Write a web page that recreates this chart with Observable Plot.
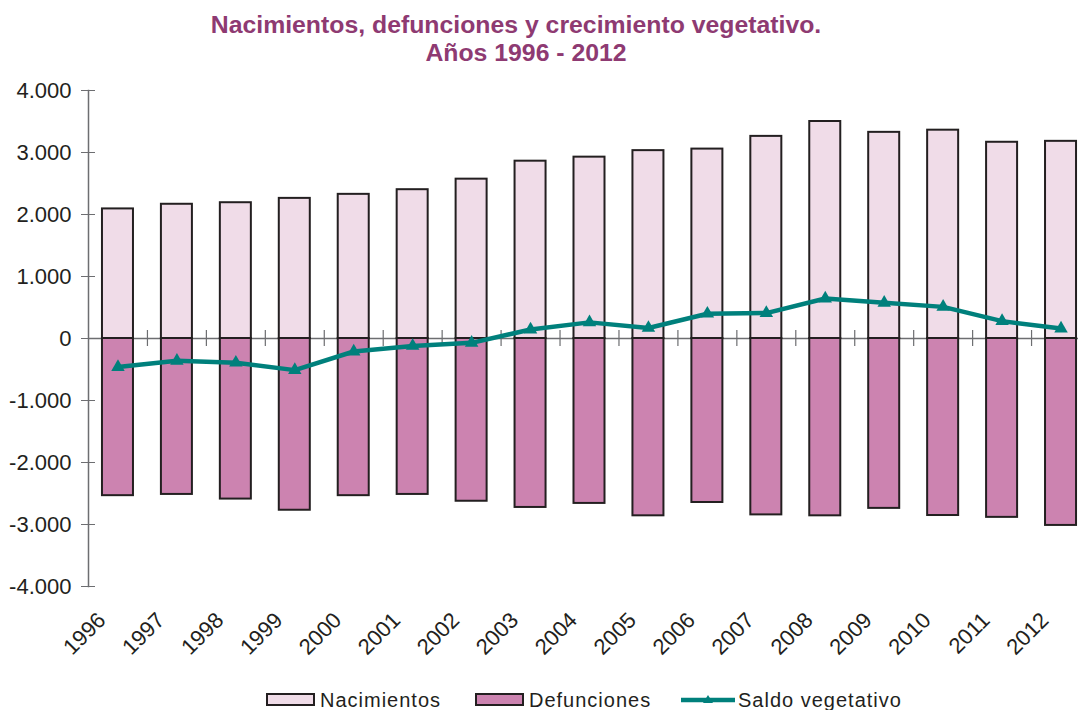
<!DOCTYPE html>
<html><head><meta charset="utf-8">
<script src="https://cdn.jsdelivr.net/npm/d3@7"></script>
<script src="https://cdn.jsdelivr.net/npm/@observablehq/plot@0.6"></script>
<style>
body{margin:0;background:#fff;font-family:"Liberation Sans",Arial,sans-serif;}
#wrap{position:relative;width:1078px;height:710px;overflow:hidden;}
#chart{position:absolute;left:0;top:0;}
.title{position:absolute;width:800px;text-align:center;color:#8e3a72;font-weight:bold;font-size:24.8px;white-space:nowrap;line-height:24px;}
.leg{position:absolute;font-size:20px;line-height:20px;letter-spacing:1px;color:#231f20;white-space:nowrap;}
.box{position:absolute;width:45px;height:9px;border:2px solid #231f20;}
</style></head><body>
<div id="wrap">
<div id="chart"></div>
<div class="title" style="left:116px;top:13px;">Nacimientos, defunciones y crecimiento vegetativo.</div>
<div class="title" style="left:126px;top:41px;">Años 1996 - 2012</div>
<div class="box" style="left:266px;top:693px;background:#f0dce8;"></div>
<div class="leg" style="left:320px;top:690px;">Nacimientos</div>
<div class="box" style="left:475px;top:693px;background:#cc83b0;"></div>
<div class="leg" style="left:529px;top:690px;">Defunciones</div>
<svg style="position:absolute;left:681px;top:693px;" width="54" height="14">
  <line x1="0" x2="54" y1="7" y2="7" stroke="#00807c" stroke-width="4.5"/>
  <path d="M27,2 L32,10 L22,10 Z" fill="#00807c"/>
</svg>
<div class="leg" style="left:738px;top:690px;">Saldo vegetativo</div>
</div>
<script>
const years = ["1996","1997","1998","1999","2000","2001","2002","2003","2004","2005","2006","2007","2008","2009","2010","2011","2012"];
const nacimientos = [2090, 2165, 2190, 2260, 2325, 2400, 2570, 2860, 2925, 3030, 3055, 3260, 3500, 3325, 3360, 3165, 3180];
const defunciones = [2535, 2515, 2590, 2770, 2535, 2515, 2625, 2725, 2660, 2860, 2645, 2845, 2860, 2740, 2855, 2885, 3015];
const saldo = [-460, -360, -390, -510, -210, -120, -70, 145, 260, 170, 400, 410, 645, 575, 510, 280, 160];
const yTicks = [-4000, -3000, -2000, -1000, 0, 1000, 2000, 3000, 4000];

const rows = years.map((y, i) => ({year: y, nac: nacimientos[i], def: -defunciones[i], saldo: saldo[i]}));
const fmt = d3.formatLocale({decimal: ",", thousands: ".", grouping: [3], currency: ["", "€"], minus: "-"}).format(",");
const xRange = [88, 1090];
const step = (xRange[1] - xRange[0]) / years.length;
const teal = "#00807c";
const gray = "#6d6e71";
const ink = "#231f20";

const chart = Plot.plot({
  width: 1078, height: 710,
  marginLeft: 88, marginRight: 0, marginTop: 90, marginBottom: 124,
  style: {fontFamily: "'Liberation Sans', Arial, sans-serif", fontSize: "22px", color: ink, background: "transparent", overflow: "visible"},
  x: {domain: years, range: xRange, paddingInner: 0.474, paddingOuter: 0.237, round: false, axis: null},
  y: {domain: [-4000, 4000], axis: null},
  marks: [
    Plot.ruleY([0], {stroke: gray, strokeWidth: 1.5}),
    Plot.ruleX(years.slice(0, -1), {x: d => d, y1: 0, y2: 0, insetTop: -8, insetBottom: -8, dx: step / 2, stroke: gray, strokeWidth: 1.2}),
    Plot.barY(rows, {x: "year", y: "nac", fill: "#f0dce8", stroke: ink, strokeWidth: 2}),
    Plot.barY(rows, {x: "year", y: "def", fill: "#cc83b0", stroke: ink, strokeWidth: 2}),
    Plot.frame({anchor: "left", stroke: gray, strokeWidth: 1.5}),
    Plot.axisY(yTicks, {tickFormat: fmt, tickSize: 14, tickPadding: 10, dx: 7, stroke: gray, fill: ink, fontSize: 22}),
    Plot.line(rows, {x: "year", y: "saldo", stroke: teal, strokeWidth: 4.5}),
    Plot.dot(rows, {x: "year", y: "saldo", symbol: "triangle", r: 5, fill: teal}),
    Plot.text(years, {x: d => d, frameAnchor: "bottom", text: d => d, rotate: -45, textAnchor: "end", lineAnchor: "bottom", dx: -11, dy: 35, fontSize: 22, fill: ink})
  ]
});
document.getElementById("chart").appendChild(chart);
</script>
</body></html>
